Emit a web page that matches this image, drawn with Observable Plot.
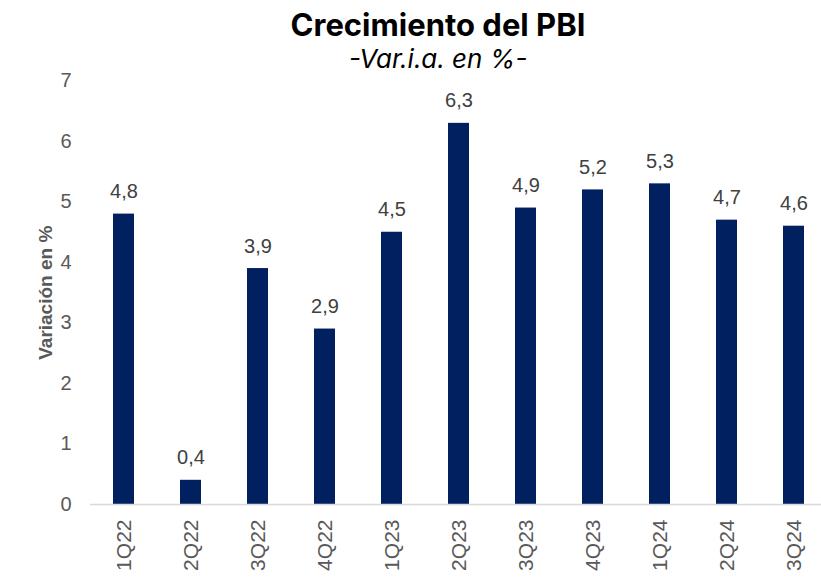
<!DOCTYPE html>
<html>
<head>
<meta charset="utf-8">
<script src="https://cdn.jsdelivr.net/npm/d3@7"></script>
<script src="https://cdn.jsdelivr.net/npm/@observablehq/plot@0.6"></script>
<style>
  html, body { margin: 0; padding: 0; background: #ffffff; }
  #wrap { position: relative; width: 821px; height: 577px; overflow: hidden; }
  .t { position: absolute; left: 0; width: 876px; text-align: center; white-space: nowrap; }
  #title { top: 9px; font: bold 31px/1 Inter, "Liberation Sans", sans-serif; color: #000; }
  #subtitle { top: 45.5px; font: italic 26px/1 Inter, "Liberation Sans", sans-serif; color: #000; }
  #chart { position: absolute; left: 0; top: 0; }
</style>
</head>
<body>
<div id="wrap">
  <div id="chart"></div>
  <div class="t" id="title">Crecimiento del PBI</div>
  <div class="t" id="subtitle">-Var.i.a. en %-</div>
</div>
<script>
const quarters = ["1Q22", "2Q22", "3Q22", "4Q22", "1Q23", "2Q23", "3Q23", "4Q23", "1Q24", "2Q24", "3Q24"];
const growth = [4.8, 0.4, 3.9, 2.9, 4.5, 6.3, 4.9, 5.2, 5.3, 4.7, 4.6];
const valueLabels = ["4,8", "0,4", "3,9", "2,9", "4,5", "6,3", "4,9", "5,2", "5,3", "4,7", "4,6"];
const yTicks = [0, 1, 2, 3, 4, 5, 6, 7];
const yTitle = "Variación en %";

const data = quarters.map((q, i) => ({q, v: growth[i], label: valueLabels[i]}));

const chart = Plot.plot({
  width: 821,
  height: 577,
  marginTop: 80.5,
  marginBottom: 73,
  marginLeft: 90,
  marginRight: 0,
  style: {fontFamily: "'Liberation Sans', Arial, sans-serif", background: "#ffffff"},
  x: {domain: quarters, range: [90, 827], paddingInner: 0.687, paddingOuter: 0.3435, align: 0.5, axis: null},
  y: {domain: [0, 7], axis: null},
  marks: [
    Plot.barY(data, {x: "q", y: "v", fill: "#002060"}),
    Plot.ruleY([0], {stroke: "#d9d9d9", strokeWidth: 1.5}),
    Plot.axisY({ticks: yTicks, tickFormat: d3.format("d"), tickSize: 0, tickPadding: 19, fontSize: 20, color: "#595959", label: null}),
    Plot.axisX({tickRotate: -90, tickSize: 0, tickPadding: 15, fontSize: 21, color: "#595959", label: null}),
    Plot.text(data, {x: "q", y: "v", text: "label", lineAnchor: "bottom", dy: -16, fontSize: 20, fill: "#404040"}),
    Plot.text([yTitle], {frameAnchor: "left", rotate: -90, textAnchor: "middle", lineAnchor: "bottom", dx: -39, fontSize: 19, fontWeight: "bold", fill: "#595959"})
  ]
});
document.getElementById("chart").appendChild(chart);
</script>
</body>
</html>
